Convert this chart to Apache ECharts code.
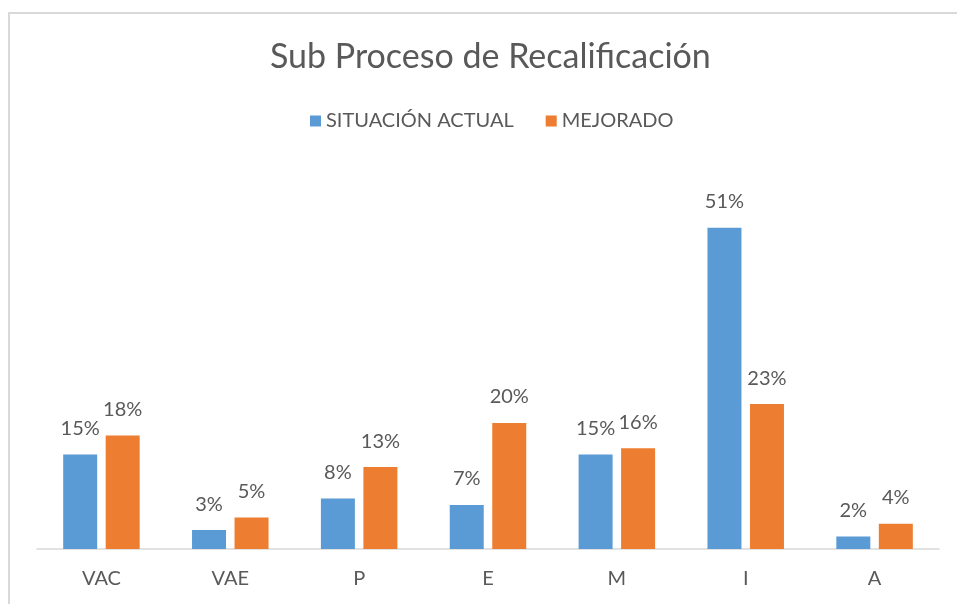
<!DOCTYPE html>
<html>
<head>
<meta charset="utf-8">
<script src="https://cdn.jsdelivr.net/npm/echarts@6/dist/echarts.min.js"></script>
<style>
html, body { margin: 0; padding: 0; background: #fff; }
#main { width: 957px; height: 604px; }
</style>
</head>
<body>
<div id="main"></div>
<script>
// categorias y valores (%)
var categories = ['VAC', 'VAE', 'P', 'E', 'M', 'I', 'A'];
var seriesNames = ['SITUACIÓN ACTUAL', 'MEJORADO'];
var actual = [15, 3, 8, 7, 15, 51, 2];
var mejorado = [18, 5, 13, 20, 16, 23, 4];

var myChart = echarts.init(document.getElementById('main'));
var font = 'Lato, "Open Sans", sans-serif';

option = {
    backgroundColor: '#fff',
    title: {
        text: 'Sub Proceso de Recalificación',
        left: 265,
        top: 35,
        textStyle: { fontFamily: font, fontSize: 34, fontWeight: 'normal', color: '#595959' }
    },
    legend: {
        data: seriesNames,
        top: 106,
        left: 305,
        itemWidth: 11,
        itemHeight: 11,
        itemGap: 32,
        icon: 'rect',
        textStyle: { fontFamily: font, fontSize: 20, color: '#595959' }
    },
    // borde del grafico
    graphic: [{
        type: 'rect',
        shape: { x: 9, y: 13, width: 960, height: 600 },
        style: { fill: 'none', stroke: '#d9d9d9', lineWidth: 2 },
        silent: true
    }],
    grid: { left: 37, right: 18, top: 171, bottom: 55 },
    xAxis: {
        type: 'category',
        data: categories,
        axisTick: { show: false },
        axisLine: { lineStyle: { color: '#d9d9d9', width: 1.5 } },
        axisLabel: { fontFamily: font, fontSize: 20, color: '#595959', margin: 20 }
    },
    yAxis: {
        type: 'value',
        min: 0,
        max: 60,
        show: false
    },
    series: [{
        name: seriesNames[0],
        type: 'bar',
        data: actual,
        barWidth: 34,
        barGap: '25%',
        itemStyle: { color: '#5b9bd5' },
        label: {
            show: true, position: 'top', distance: 16,
            formatter: '{c}%',
            fontFamily: font, fontSize: 20, color: '#595959'
        }
    }, {
        name: seriesNames[1],
        type: 'bar',
        data: mejorado,
        barWidth: 34,
        itemStyle: { color: '#ed7d31' },
        label: {
            show: true, position: 'top', distance: 16,
            formatter: '{c}%',
            fontFamily: font, fontSize: 20, color: '#595959'
        }
    }]
};
myChart.setOption(option);
</script>
</body>
</html>
